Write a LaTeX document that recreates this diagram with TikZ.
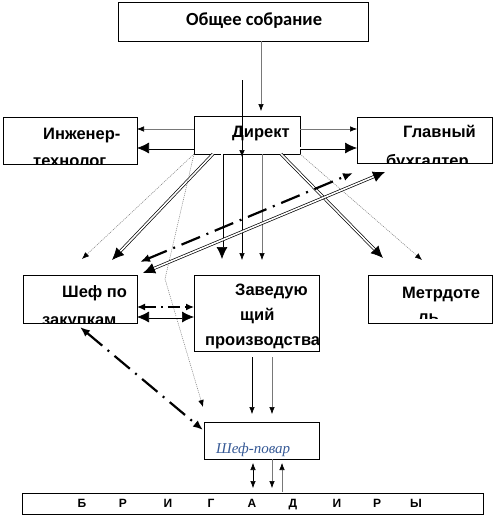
\documentclass[tikz,border=0pt]{standalone}
\usepackage{fontspec}
\setmainfont{Liberation Sans}
\newfontfamily\gmfont{Carlito}
\newfontfamily\cheffont{Liberation Serif}
\usetikzlibrary{arrows.meta}
\definecolor{chefblue}{RGB}{55,90,150}
\definecolor{lgray}{RGB}{120,120,120}
\begin{document}
\begin{tikzpicture}[x=1pt,y=-1pt,
  box/.style={draw=black,line width=0.8pt,inner sep=0pt,outer sep=0pt,fill=white},
  txt/.style={anchor=base west,inner sep=0pt,font=\fontsize{16.5}{18}\selectfont\bfseries},
  sarr/.style={-{Latex[length=7pt,width=5.5pt,color=black]}},
  thinblack/.style={draw=black,line width=0.6pt,sarr},
  thingray/.style={draw=lgray,line width=0.6pt,sarr},
  dotgray/.style={draw=lgray,line width=0.5pt,dash pattern=on 1pt off 1pt,sarr},
  dbl/.style={draw=black,line width=0.7pt,double=white,double distance=1.6pt,-{Latex[length=12pt,width=11pt]}},
  dblboth/.style={draw=black,line width=0.7pt,double=white,double distance=1.6pt,{Latex[length=12pt,width=11pt]}-{Latex[length=12pt,width=11pt]}},
  dashdot/.style={draw=black,line width=2.2pt,dash pattern=on 20pt off 7pt on 2pt off 7pt,{Latex[length=10pt,width=8pt]}-{Latex[length=10pt,width=8pt]}},
  dashdotthin/.style={draw=black,line width=1.3pt,dash pattern=on 12pt off 5pt on 1.5pt off 5pt,{Latex[length=8pt,width=7pt]}-{Latex[length=8pt,width=7pt]}}
]
\useasboundingbox (0,0) rectangle (495,525);
\fill[white] (0,0) rectangle (495,525);

% boxes
\node[box,minimum width=250pt,minimum height=39pt] (gm) at (243,21.5) {};
\node[box,minimum width=106pt,minimum height=38pt] (dir) at (247,135) {};
\node[box,minimum width=134pt,minimum height=47pt] (eng) at (70,140.5) {};
\node[box,minimum width=135pt,minimum height=46pt] (acc) at (424.5,140) {};
\node[box,minimum width=114pt,minimum height=48pt] (buy) at (80,299) {};
\node[box,minimum width=125pt,minimum height=76pt] (prod) at (256.5,313) {};
\node[box,minimum width=124pt,minimum height=48pt] (met) at (430,299) {};
\node[box,minimum width=115pt,minimum height=37pt] (chef) at (261.5,440.5) {};
\node[box,minimum width=461pt,minimum height=21pt] (brig) at (252.5,503.5) {};

% texts
\node[anchor=base west,inner sep=0pt,font=\gmfont\fontsize{18.5}{20}\selectfont\bfseries] (tgm) at (186,25) {Общее собрание};
\node[txt] (tdir) at (232,137) {Директ};
\begin{scope}
\clip (eng.south west) rectangle (eng.north east);
\node[txt] (teng1) at (43,139) {Инженер-};
\node[txt] (teng2) at (33,166) {технолог};
\end{scope}
\begin{scope}
\clip (acc.south west) rectangle (acc.north east);
\node[txt] (tacc1) at (403,137) {Главный};
\node[txt] (tacc2) at (386,166) {бухгалтер};
\end{scope}
\begin{scope}
\clip (buy.south west) rectangle (buy.north east);
\node[txt] (tbuy1) at (62,297) {Шеф по};
\node[txt] (tbuy2) at (42,325) {закупкам};
\end{scope}
\begin{scope}
\clip (prod.south west) rectangle (prod.north east);
\node[txt] (tprod1) at (235,295) {Заведую};
\node[txt] (tprod2) at (240,320) {щий};
\node[txt] (tprod3) at (205,345) {производства};
\end{scope}
\begin{scope}
\clip ([yshift=5pt]met.south west) rectangle (met.north east);
\node[txt] (tmet1) at (402,298) {Метрдоте};
\node[txt] (tmet2) at (418,322) {ль};
\end{scope}
\node[anchor=base west,inner sep=0pt,text=chefblue,font=\cheffont\fontsize{15}{16}\selectfont\itshape] (tchef) at (216,453) {Шеф-повар};
\foreach \ch/\xx [count=\i] in {Б/82,Р/123,И/168,Г/211,А/252,Д/293,И/337,Р/377,Ы/416}{
  \node[anchor=base,inner sep=0pt,font=\fontsize{12}{13}\selectfont\bfseries] (tb\i) at (\xx,507.5) {\ch};
}

% connectors
\coordinate (topline) at (242,80);
\coordinate (bend) at (165,279);
\draw[thingray] ([xshift=18pt]gm.south) -- ([xshift=14pt,yshift=5pt]dir.north);
\draw[thinblack] (topline) -- ([xshift=-5pt,yshift=-3pt]dir.south);

\draw[thingray] ([yshift=6pt]dir.west) -- ([yshift=11.5pt]eng.east);
\draw[dbl] ([yshift=-13pt]dir.west) -- ([yshift=-7.5pt]eng.east);
\draw[thingray] ([yshift=6pt]dir.east) -- ([yshift=11pt]acc.west);
\draw[dbl] ([yshift=-13pt]dir.east) -- ([yshift=-8pt]acc.west);

\draw[dotgray] (dir.south west) -- ([xshift=2pt,yshift=16pt]buy.north);
\draw[dbl] ([xshift=19pt]dir.south west) -- ([xshift=32pt,yshift=15pt]buy.north);
\draw[dotgray] (dir.south west) -- (bend) -- ([xshift=-1pt,yshift=15pt]chef.north west);

\draw[dbl] ([xshift=-25pt]dir.south) -- ([xshift=-34.5pt,yshift=16pt]prod.north);
\draw[thinblack] ([xshift=-5pt]dir.south) -- ([xshift=-14.5pt,yshift=15pt]prod.north);
\draw[thingray] ([xshift=15pt]dir.south) -- ([xshift=5.5pt,yshift=15pt]prod.north);

\draw[dbl] ([xshift=-19pt]dir.south east) -- ([xshift=15pt,yshift=17pt]met.north west);
\draw[dotgray] (dir.south east) -- ([xshift=54pt,yshift=15pt]met.north west);

\draw[dashdot] ([xshift=3pt,yshift=13pt]buy.north east) -- ([xshift=-4pt,yshift=-10pt]acc.south west);
\draw[dblboth] ([xshift=6pt,yshift=2pt]buy.north east) -- ([xshift=28pt,yshift=-9pt]acc.south west);

\draw[dashdotthin] ([yshift=-8pt]buy.east) -- ([yshift=6pt]prod.west);
\draw[dblboth] ([yshift=-18pt]buy.east) -- ([yshift=-4pt]prod.west);

\draw[dashdot] ([yshift=-4pt]buy.south) -- ([xshift=-1pt,yshift=-8pt]chef.north west);

\draw[thinblack] ([xshift=-4.5pt,yshift=-6pt]prod.south) -- ([xshift=-9.5pt,yshift=8pt]chef.north);
\draw[thingray] ([xshift=15.5pt,yshift=-6pt]prod.south) -- ([xshift=10.5pt,yshift=8pt]chef.north);

\draw[thinblack,{Latex[length=7pt,width=5.5pt]}-{Latex[length=7pt,width=5.5pt]}] ([xshift=-8.5pt,yshift=-4pt]chef.south) -- ([xshift=0.5pt,yshift=5pt]brig.north);
\draw[thingray] ([xshift=10.5pt]chef.south) -- ([xshift=19.5pt,yshift=5pt]brig.north);
\draw[thingray] ([xshift=29.5pt,yshift=1pt]brig.north) -- ([xshift=20.5pt,yshift=-4pt]chef.south);
\end{tikzpicture}
\end{document}
